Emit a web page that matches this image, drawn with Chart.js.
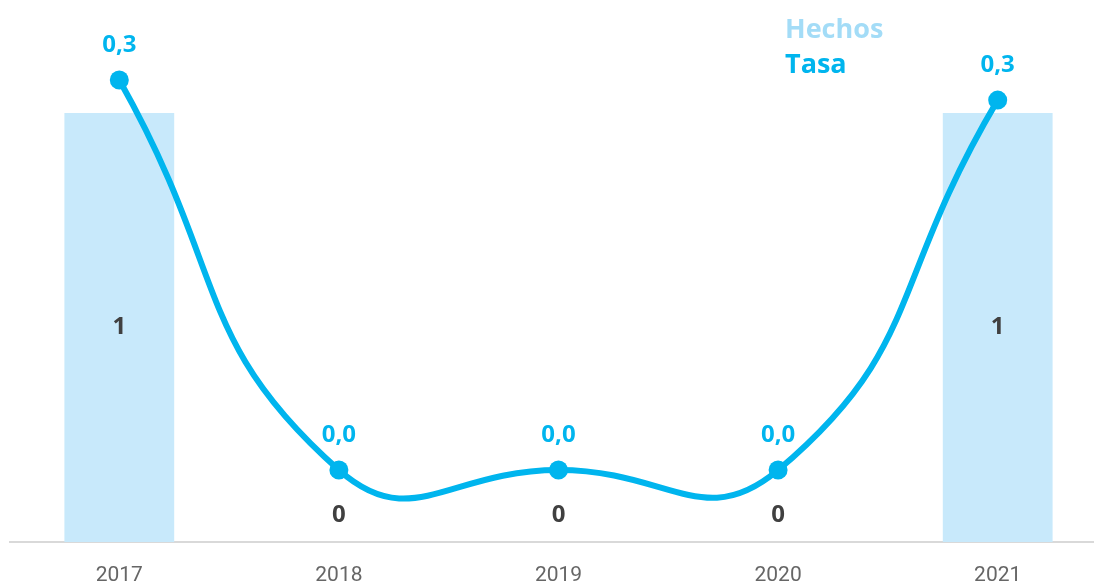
<!doctype html>
<html lang="es">
 <head>
  <meta charset="UTF-8">
  <title>Hechos y Tasa</title>
  <script src="https://cdn.jsdelivr.net/npm/chart.js"></script>
  <style>
        body {
            margin: 0;
            padding: 0;
            background: #fff;
            overflow: hidden;
        }

        .wrap {
            position: relative;
            width: 1117px;
            height: 586px;
        }

        .legend {
            position: absolute;
            left: 785px;
            top: 10px;
            font-family: 'Open Sans', sans-serif;
            font-weight: bold;
            font-size: 27px;
            line-height: 35px;
        }

        .legend .hechos { color: #a3dcf7; }
        .legend .tasa { color: #00b5ee; }
    </style>
 </head>
 <body>
  <div class="wrap">
   <canvas id="chart" width="1117" height="586"></canvas>
   <div class="legend">
    <div class="hechos">Hechos</div>
    <div class="tasa">Tasa</div>
   </div>
  </div>
  <script>
        const years = ['2017', '2018', '2019', '2020', '2021'];
        const hechos = [1, 0, 0, 0, 1];
        const tasa = [0.31, 0, 0, 0, 0.294];

        const blue = '#00b5ee';
        const lightBlue = '#c8e9fb';

        // draws the value labels over bars and points
        const valueLabels = {
            id: 'valueLabels',
            afterDatasetsDraw(chart) {
                const ctx = chart.ctx;
                ctx.save();
                ctx.textAlign = 'center';
                ctx.textBaseline = 'middle';

                const bars = chart.getDatasetMeta(0);
                ctx.font = 'bold 24px "Open Sans", sans-serif';
                ctx.fillStyle = '#404040';
                bars.data.forEach((bar, i) => {
                    const v = hechos[i];
                    const y = v > 0 ? (bar.y + bar.base) / 2 : bar.base - 27;
                    ctx.fillText(String(v), bar.x, y);
                });

                const line = chart.getDatasetMeta(1);
                ctx.fillStyle = blue;
                line.data.forEach((pt, i) => {
                    ctx.fillText(tasa[i].toFixed(1).replace('.', ','), pt.x, pt.y - 35);
                });
                ctx.restore();
            }
        };

        new Chart(document.getElementById('chart'), {
            data: {
                labels: years,
                datasets: [
                    {
                        type: 'bar',
                        label: 'Hechos',
                        data: hechos,
                        backgroundColor: lightBlue,
                        barPercentage: 0.5,
                        categoryPercentage: 1,
                        yAxisID: 'y',
                        order: 2
                    },
                    {
                        type: 'line',
                        label: 'Tasa',
                        data: tasa,
                        borderColor: blue,
                        backgroundColor: blue,
                        borderWidth: 6,
                        pointRadius: 9.5,
                        pointBorderWidth: 0,
                        tension: 0.5,
                        yAxisID: 'y1',
                        order: 1
                    }
                ]
            },
            options: {
                responsive: false,
                animation: false,
                layout: { padding: { left: 9, right: 0, top: 0, bottom: 0 } },
                plugins: {
                    legend: { display: false },
                    tooltip: { enabled: false }
                },
                scales: {
                    x: {
                        grid: { display: false },
                        border: { display: true, color: '#d9d9d9', width: 2 },
                        ticks: {
                            color: '#666',
                            padding: 13,
                            font: { family: 'Roboto, sans-serif', size: 21 }
                        },
                        afterFit: (s) => { s.height = 44; }
                    },
                    y: { display: false, min: 0, max: 1.2413 },
                    y1: { display: false, min: -0.0572, max: 0.366 }
                }
            },
            plugins: [valueLabels]
        });
    </script>
 </body>
</html>
